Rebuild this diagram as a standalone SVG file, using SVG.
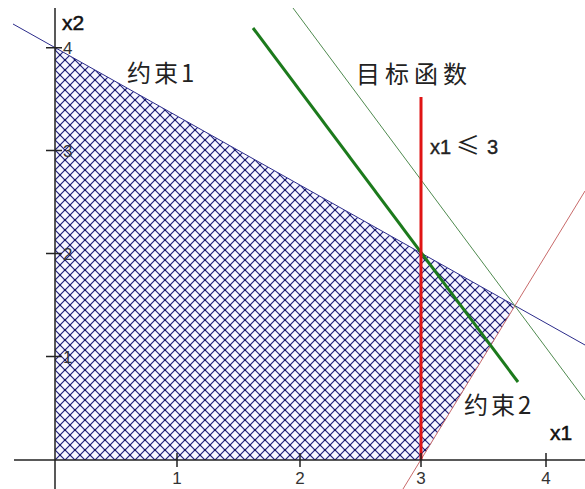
<svg xmlns="http://www.w3.org/2000/svg" width="585" height="489" viewBox="0 0 585 489">
<style>
.lbl{font-family:"Noto Sans CJK SC","Liberation Sans",sans-serif;fill:#222;}
.ax{font-family:"Liberation Sans","DejaVu Sans",sans-serif;fill:#111;stroke:#111;stroke-width:0.5;font-size:21px;}
.tk{font-family:"Liberation Sans","DejaVu Sans",sans-serif;fill:#333;font-size:17px;}
.axis{stroke:#222;stroke-width:1.5;fill:none;}
</style>
<defs>
<pattern id="hatch" patternUnits="userSpaceOnUse" width="10" height="10" x="55" y="0">
<rect width="10" height="10" fill="#f6f6ff"/>
<path d="M0,0 L10,10 M10,0 L0,10" stroke="#20207e" stroke-width="1.2"/>
<path d="M0,0 h0.1 M10,0 h-0.1 M0,10 h0.1 M10,10 h-0.1 M5,5 h0.1" stroke="#15155e" stroke-width="2.2" stroke-linecap="round"/>
</pattern>
</defs>
<rect width="585" height="489" fill="#ffffff"/>
<g id="region">
<polygon points="55,460 421,460 515,306 55,47.7" fill="url(#hatch)"/>
</g>
<g id="connectors">
<line id="c1" x1="13" y1="24" x2="585" y2="345" stroke="#2b2b8a" stroke-width="1"/>
<line id="c2" x1="403" y1="489" x2="585" y2="191" stroke="#c86a6a" stroke-width="1"/>
<line id="obj2" x1="293" y1="8" x2="585" y2="400" stroke="#4f8a4f" stroke-width="1"/>
<line id="obj" x1="253" y1="28" x2="518" y2="382" stroke="#1c7a1c" stroke-width="3"/>
<line id="x13" x1="421" y1="97" x2="421" y2="460" stroke="#e01414" stroke-width="3"/>
</g>
<g id="axes">
<line class="axis" x1="14" y1="460" x2="585" y2="460"/>
<line class="axis" x1="55" y1="8" x2="55" y2="489"/>
<path class="axis" d="M177,453 V467 M300,453 V467 M421,453 V467 M546,453 V467 M46,47.7 H62 M46,150.5 H62 M46,253.5 H62 M46,356.5 H62"/>
<text class="tk" x="177" y="484" text-anchor="middle">1</text>
<text class="tk" x="300" y="484" text-anchor="middle">2</text>
<text class="tk" x="421" y="484" text-anchor="middle">3</text>
<text class="tk" x="546" y="484" text-anchor="middle">4</text>
<text class="tk" x="63" y="54">4</text>
<text class="tk" x="63" y="157">3</text>
<text class="tk" x="63" y="260">2</text>
<text class="tk" x="63" y="363">1</text>
<text class="ax" x="62" y="30">x2</text>
<text class="ax" x="550" y="440">x1</text>
</g>
<g id="labels">
<text class="lbl" x="127" y="82" font-size="24" letter-spacing="3">约束1</text>
<text class="lbl" x="356" y="83" font-size="24" letter-spacing="5">目标函数</text>
<text class="lbl" x="464" y="414" font-size="24" letter-spacing="3">约束2</text>
<text class="lbl" x="430" y="154" font-size="20"><tspan font-family="Liberation Sans,sans-serif" stroke="#222" stroke-width="0.4">x1</tspan><tspan x="456" font-size="24">≤</tspan><tspan x="487" font-family="Liberation Sans,sans-serif" stroke="#222" stroke-width="0.4">3</tspan></text>
</g>
</svg>
